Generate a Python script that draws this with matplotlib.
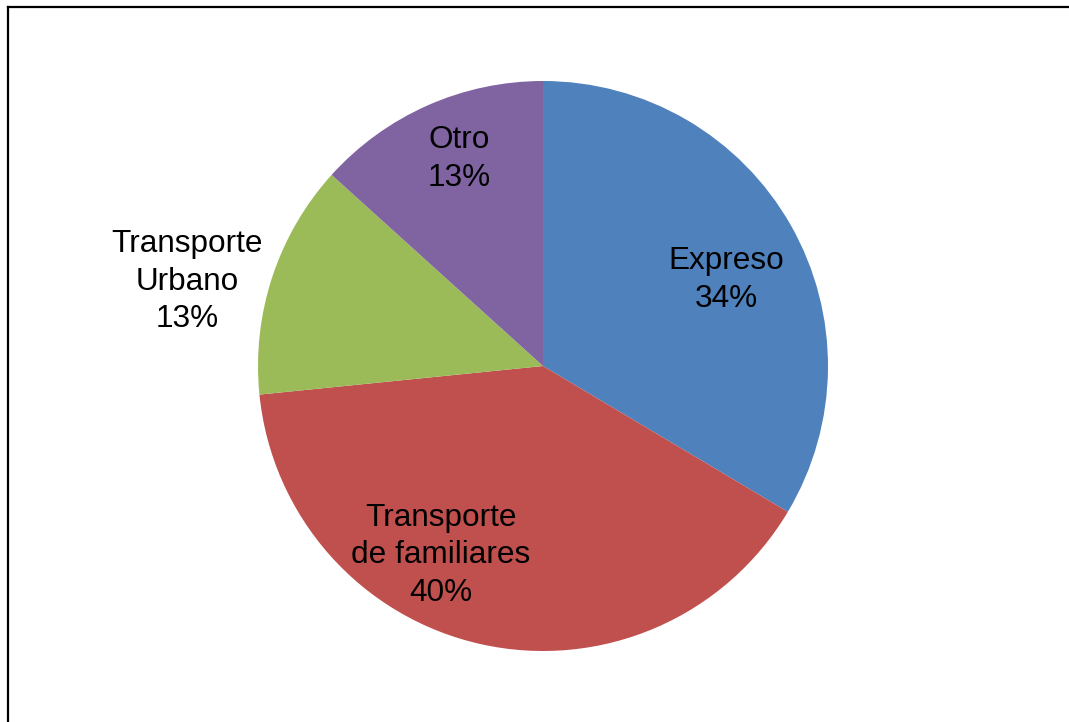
import numpy as np
import matplotlib
matplotlib.use("Agg")
import matplotlib.pyplot as plt
from matplotlib.lines import Line2D

# Data
categories = ["Expreso", "Transporte\nde familiares", "Transporte\nUrbano", "Otro"]
values = [33.55, 39.85, 13.3, 13.3]
colors = ["#4F81BD", "#C0504D", "#9BBB59", "#8064A2"]

# Label placement (radius fraction, angle in degrees) — layout only
label_pos = [(0.709, 25.2), (0.755, -118.3), (1.283, 166.7), (0.784, 112.1)]

plt.rcParams['font.family'] = ['Liberation Sans', 'DejaVu Sans']

W, H = 1069, 722
fig = plt.figure(figsize=(W / 100, H / 100), dpi=100)

cx, cy, r = 543, 366, 285
ax = fig.add_axes([(cx - r) / W, (H - cy - r) / H, 2 * r / W, 2 * r / H])
wedges, _ = ax.pie(values, colors=colors, startangle=90, counterclock=False,
                   radius=1.0, wedgeprops=dict(linewidth=0))
ax.set_xlim(-1, 1)
ax.set_ylim(-1, 1)
ax.set_aspect('equal')
ax.axis('off')

total = sum(values)
for cat, v, (rr, ang) in zip(categories, values, label_pos):
    pct = int(100 * v / total + 0.5)
    a = np.deg2rad(ang)
    ax.text(rr * np.cos(a), rr * np.sin(a), f"{cat}\n{pct}%", ha='center', va='center',
            fontsize=22.7, color='black', linespacing=1.33, clip_on=False)

# Border (top and left visible)
fig.add_artist(Line2D([8 / W, 1.0], [1 - 7 / H, 1 - 7 / H], transform=fig.transFigure,
                      color='black', linewidth=1.6))
fig.add_artist(Line2D([8 / W, 8 / W], [0.0, 1 - 7 / H], transform=fig.transFigure,
                      color='black', linewidth=1.6))

fig.savefig("out.png", dpi=100, facecolor='white')
